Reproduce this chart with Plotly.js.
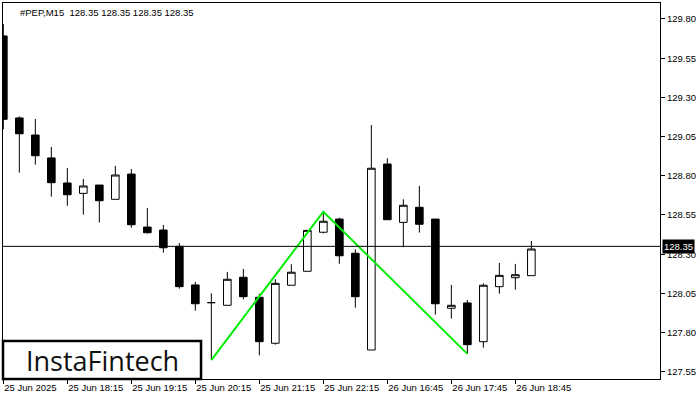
<!DOCTYPE html>
<html>
<head>
<meta charset="utf-8">
<script src="https://cdn.plot.ly/plotly-3.0.1.min.js"></script>
<style>
html,body{margin:0;padding:0;background:#fff;}
#chart{width:700px;height:400px;}
</style>
</head>
<body>
<div id="chart"></div>
<script>
// ---- data ----
var symbolTitle = "#PEP,M15\u00a0 128.35 128.35 128.35 128.35";
var barIndex = [0,1,2,3,4,5,6,7,8,9,10,11,12,13,14,15,16,17,18,19,20,21,22,23,24,25,26,27,28,29,30,31,32,33];
var openP  = [129.692,129.169,129.060,128.914,128.754,128.688,128.741,128.650,128.811,128.473,128.454,128.350,128.104,127.991,127.974,128.153,128.025,127.732,128.102,128.191,128.440,128.524,128.306,127.689,128.875,128.503,128.599,128.524,127.955,127.989,127.742,128.093,128.150,128.163];
var highP  = [129.768,129.179,129.162,128.984,128.850,128.780,128.741,128.863,128.843,128.595,128.486,128.371,128.123,128.051,128.187,128.206,128.048,128.140,128.236,128.452,128.571,128.533,128.331,129.124,128.912,128.650,128.735,128.524,128.104,128.008,128.114,128.244,128.238,128.384];
var lowP   = [129.097,128.820,128.871,128.667,128.609,128.552,128.502,128.650,128.469,128.431,128.310,128.080,127.940,127.625,127.974,128.012,127.655,127.723,128.102,128.191,128.433,128.239,127.959,127.689,128.520,128.344,128.438,127.914,127.889,127.664,127.704,128.048,128.074,128.163];
var closeP = [129.160,129.068,128.928,128.756,128.679,128.735,128.641,128.805,128.488,128.437,128.341,128.093,127.984,127.991,128.140,128.029,127.742,128.114,128.185,128.452,128.510,128.290,128.029,128.848,128.520,128.612,128.491,127.984,127.974,127.723,128.102,128.165,128.169,128.333];
var xTickIdx  = [0,4,8,12,16,20,24,28,32];
var xTickText = ["25 Jun 2025","25 Jun 18:15","25 Jun 19:15","25 Jun 20:15","25 Jun 21:15","25 Jun 22:15","26 Jun 16:45","26 Jun 17:45","26 Jun 18:45"];
var yTickVals = [127.55,127.80,128.05,128.30,128.55,128.80,129.05,129.30,129.55,129.80];
var lastPrice = 128.35;
var patternIdx = [13,20,29];
var patternY = [lowP[13], highP[20], lowP[29]];
var logoText = "InstaFintech";

// ---- chart ----
var candles = {
  type:'candlestick', x:barIndex, open:openP, high:highP, low:lowP, close:closeP,
  increasing:{line:{color:'#000000',width:1}, fillcolor:'#ffffff'},
  decreasing:{line:{color:'#000000',width:1}, fillcolor:'#000000'},
  whiskerwidth:0, hoverinfo:'skip', showlegend:false
};
var pattern = {
  type:'scatter', mode:'lines', x:patternIdx, y:patternY,
  line:{color:'#00ee00', width:2}, hoverinfo:'skip', showlegend:false
};
var tickFont = {family:'Liberation Sans, Arial, sans-serif', size:9.5, color:'#000'};
var layout = {
  width:700, height:400,
  margin:{l:3, r:40, t:3, b:21, pad:0},
  paper_bgcolor:'#ffffff', plot_bgcolor:'#ffffff',
  boxgap:0.32,
  showlegend:false,
  xaxis:{
    range:[-0.02, 41.04], showgrid:false, zeroline:false,
    rangeslider:{visible:false},
    tickmode:'array', tickvals:xTickIdx, ticktext:xTickText,
    ticks:'outside', ticklen:4, tickcolor:'#000', tickwidth:1,
    ticklabelposition:'outside right',
    tickfont:tickFont,
    showline:true, linecolor:'#000', linewidth:1, mirror:true,
    fixedrange:true
  },
  yaxis:{
    range:[127.504, 129.902], side:'right', showgrid:false, zeroline:false,
    tickmode:'array', tickvals:yTickVals, tickformat:'.2f',
    ticks:'outside', ticklen:4, tickcolor:'#000', tickwidth:1,
    tickfont:tickFont,
    showline:true, linecolor:'#000', linewidth:1, mirror:true,
    fixedrange:true
  },
  shapes:[
    {type:'line', xref:'paper', yref:'y', x0:0, x1:1, y0:lastPrice, y1:lastPrice,
     line:{color:'#000', width:1}},
    {type:'rect', xref:'paper', yref:'paper', x0:0, x1:0.3014, y0:0, y1:0.101,
     fillcolor:'#ffffff', line:{color:'#000', width:2.5}, layer:'above'}
  ],
  annotations:[
    {xref:'paper', yref:'paper', x:0.023, y:1, yshift:-2, xanchor:'left', yanchor:'top',
     text:symbolTitle, showarrow:false, font:{family:'Liberation Sans, Arial, sans-serif', size:9.5, color:'#000'}},
    {xref:'paper', yref:'y', x:1, xshift:2, y:lastPrice, xanchor:'left', yanchor:'middle',
     text:lastPrice.toFixed(2), showarrow:false, bgcolor:'#000', borderpad:1,
     font:{family:'Liberation Sans, Arial, sans-serif', size:9.5, color:'#fff'}},
    {xref:'paper', yref:'paper', x:0.1507, y:0.0505, xanchor:'center', yanchor:'middle',
     text:logoText, showarrow:false,
     font:{family:'Open Sans, sans-serif', size:27, color:'#111'}}
  ]
};
Plotly.newPlot('chart', [candles, pattern], layout, {staticPlot:true, displayModeBar:false});
</script>
</body>
</html>
